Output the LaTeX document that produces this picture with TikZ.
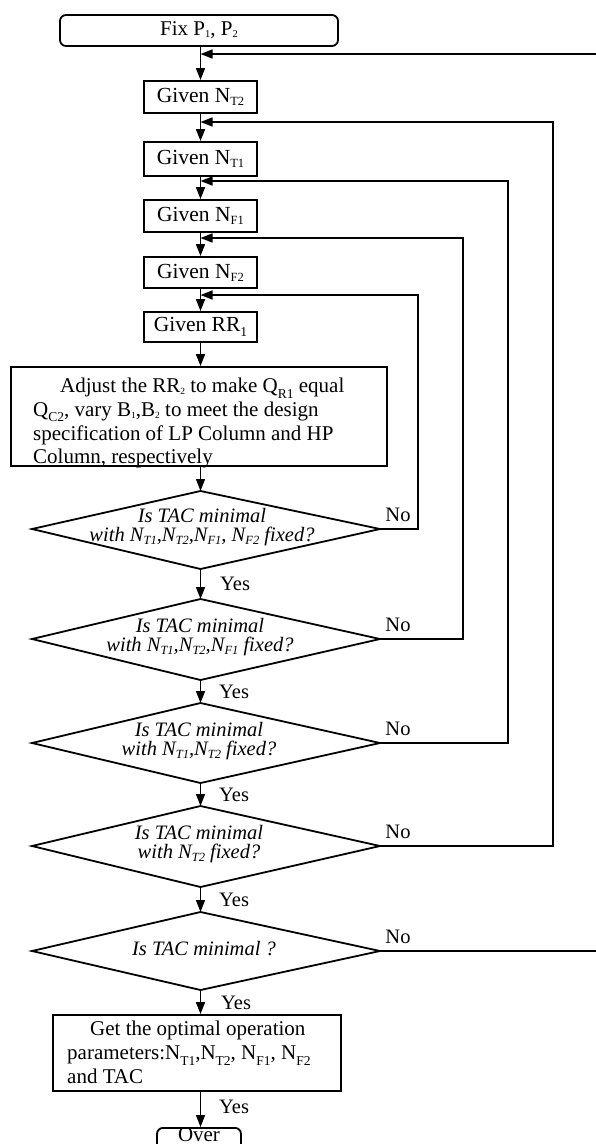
\documentclass[tikz,border=0pt]{standalone}
\usepackage{fontspec}
\setmainfont{Liberation Serif}
\usetikzlibrary{arrows.meta}
\newcommand{\sbs}[1]{\raisebox{-0.14em}{\fontsize{12.5}{12.5}\selectfont #1}}
\newcommand{\sbf}[1]{\raisebox{-0.1em}{\fontsize{10.5}{10.5}\selectfont #1}}
\newcommand{\sbm}[1]{\raisebox{-0.25em}{\fontsize{13.5}{13.5}\selectfont #1}}
\newcommand{\sbt}[1]{\raisebox{-0.08em}{\fontsize{9.5}{9.5}\selectfont #1}}
\begin{document}
\begin{tikzpicture}[x=1pt,y=-1pt,
  conn/.style={line width=1.6pt},
  arr/.style={line width=1.6pt,-{Triangle[length=12pt,width=9pt]}},
  gbox/.style={draw,line width=1.8pt,minimum width=113pt,minimum height=32pt,inner sep=0pt,font=\fontsize{21.5}{24}\selectfont},
  pbox/.style={draw,line width=1.8pt,inner sep=0pt},
  term/.style={draw,line width=1.8pt,rounded corners=6pt,inner sep=0pt,font=\fontsize{21}{24}\selectfont},
  btxt/.style={inner sep=0pt,align=left,font=\fontsize{21}{23.7}\selectfont},
  dia/.style={draw,line width=1.8pt},
  dtxt/.style={inner sep=0pt,align=center,font=\itshape\fontsize{20.5}{19.5}\selectfont},
  lab/.style={inner sep=0pt,font=\fontsize{20.5}{20}\selectfont}]
\useasboundingbox (0,0) rectangle (596,1144);
\fill[white] (0,0) rectangle (596,1144);
\def\mx{200.5}
% start and given boxes
\node[term,minimum width=278pt,minimum height=31pt] (fix) at (199,30.5) {Fix P\sbf{1}, P\sbf{2}};
\node[gbox] (nt2) at (\mx,97) {Given N\sbs{T2}};
\node[gbox,minimum height=34pt] (nt1) at (\mx,159) {Given N\sbs{T1}};
\node[gbox] (nf1) at (\mx,216) {Given N\sbs{F1}};
\node[gbox,minimum height=31pt] (nf2) at (\mx,272.5) {Given N\sbs{F2}};
\node[gbox,minimum height=30pt] (rr1) at (\mx,327) {Given RR\sbm{1}};
% adjust box
\node[pbox,minimum width=376pt,minimum height=99pt] (adj) at (199,416.5) {};
\node[btxt,anchor=north west] (adjtxt) at (33,378) {\hspace*{27pt}Adjust the RR\sbt{2} to make Q\sbm{R1} equal\\Q\sbm{C2}, vary B\sbt{1},B\sbt{2} to meet the design\\specification of LP Column and HP\\Column, respectively};
% diamonds
\coordinate (d1l) at (32,529); \coordinate (d1t) at (\mx,491); \coordinate (d1r) at (380,529); \coordinate (d1b) at (\mx,569);
\coordinate (d2l) at (32,639); \coordinate (d2t) at (\mx,599); \coordinate (d2r) at (380,639); \coordinate (d2b) at (\mx,680);
\coordinate (d3l) at (32,743); \coordinate (d3t) at (\mx,703); \coordinate (d3r) at (380,743); \coordinate (d3b) at (\mx,783);
\coordinate (d4l) at (32,846); \coordinate (d4t) at (\mx,806); \coordinate (d4r) at (380,846); \coordinate (d4b) at (\mx,887);
\coordinate (d5l) at (32,951); \coordinate (d5t) at (\mx,912); \coordinate (d5r) at (380,951); \coordinate (d5b) at (\mx,990);
\foreach \i in {1,...,5} {\draw[dia] (d\i l) -- (d\i t) -- (d\i r) -- (d\i b) -- cycle;}
\node[dtxt] (d1) at (202,527) {Is TAC minimal\\with N\sbs{T1},N\sbs{T2},N\sbs{F1}, N\sbs{F2} fixed?};
\node[dtxt] (d2) at (200,637) {Is TAC minimal\\with N\sbs{T1},N\sbs{T2},N\sbs{F1} fixed?};
\node[dtxt] (d3) at (199,741) {Is TAC minimal\\with N\sbs{T1},N\sbs{T2} fixed?};
\node[dtxt] (d4) at (199,844) {Is TAC minimal\\with N\sbs{T2} fixed?};
\node[dtxt] (d5) at (204,949) {Is TAC minimal ?};
% final box
\node[pbox,minimum width=288pt,minimum height=76pt] (fin) at (197,1053) {};
\node[btxt,anchor=north west,font=\fontsize{21}{24}\selectfont] (fintxt) at (67,1021) {\hspace*{23pt}Get the optimal operation\\parameters:N\sbm{T1},N\sbm{T2}, N\sbm{F1}, N\sbm{F2}\\and TAC};
\node[term,anchor=north,minimum width=84pt,text height=12pt,text depth=15pt,inner ysep=1.5pt] (over) at (199,1127) {Over};
% main flow
\draw[arr] (nt2.north |- fix.south) -- (nt2.north);
\draw[arr] (nt2) -- (nt1);
\draw[arr] (nt1) -- (nf1);
\draw[arr] (nf1) -- (nf2);
\draw[arr] (nf2) -- (rr1);
\draw[arr] (rr1.south) -- (rr1.south |- adj.north);
\draw[arr] (d1t |- adj.south) -- (d1t);
\draw[arr] (d1b) -- (d2t);
\draw[arr] (d2b) -- (d3t);
\draw[arr] (d3b) -- (d4t);
\draw[arr] (d4b) -- (d5t);
\draw[arr] (d5b) -- (d5b |- fin.north);
\draw[arr] (d5b |- fin.south) -- (d5b |- over.north);
% feedback loops
\coordinate (edgeT) at (600,54);
\coordinate (edgeB) at (600,951);
\coordinate (l4) at (553,122);
\coordinate (l3) at (508,181);
\coordinate (l2) at (463,238);
\coordinate (l1) at (418,295);
\draw[arr] (edgeT) -- (edgeT -| nt2);
\draw[conn] (d5r) -- (edgeB);
\draw[arr] (d4r) -| (l4) -- (l4 -| nt2);
\draw[arr] (d3r) -| (l3) -- (l3 -| nt2);
\draw[arr] (d2r) -| (l2) -- (l2 -| nt2);
\draw[arr] (d1r) -| (l1) -- (l1 -| nt2);
% labels
\node[lab] (no1) at (398,515) {No};
\node[lab] (no2) at (398,625) {No};
\node[lab] (no3) at (398,729) {No};
\node[lab] (no4) at (398,832) {No};
\node[lab] (no5) at (398,937) {No};
\node[lab,anchor=west] (y1) at (220,584) {Yes};
\node[lab,anchor=west] (y2) at (219,692) {Yes};
\node[lab,anchor=west] (y3) at (219,795) {Yes};
\node[lab,anchor=west] (y4) at (219,900) {Yes};
\node[lab,anchor=west] (y5) at (221,1003) {Yes};
\node[lab,anchor=west] (y6) at (219,1107) {Yes};
\end{tikzpicture}
\end{document}
